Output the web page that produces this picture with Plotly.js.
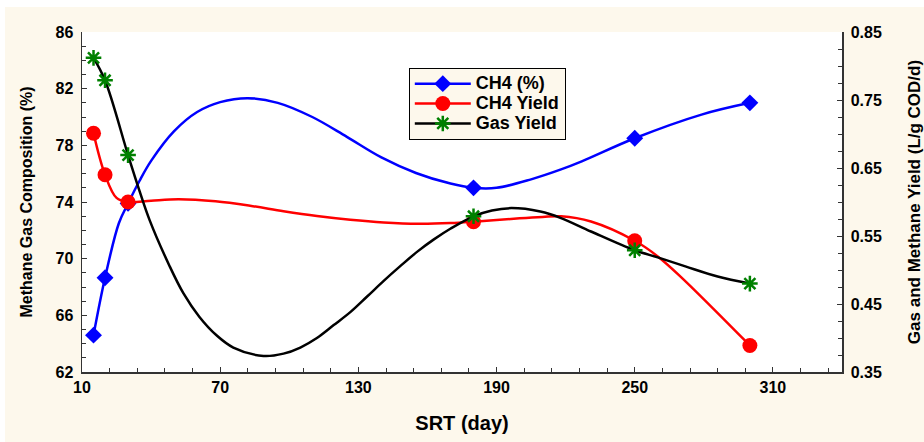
<!DOCTYPE html>
<html><head><meta charset="utf-8">
<script src="https://cdn.plot.ly/plotly-3.0.1.min.js"></script>
<style>html,body{margin:0;padding:0;background:#ffffff;} #chart{position:absolute;left:5px;top:7px;width:919px;height:435px;}</style>
</head><body><div id="chart"></div>
<script>
// ---- measured data points (markers) ----
const srtDays    = [15, 20, 30, 180, 250, 300];
const ch4Percent = [64.6, 68.65, 73.9, 75.0, 78.5, 81.0];
const ch4Yield   = [0.701, 0.640, 0.600, 0.571, 0.543, 0.389];
const gasYield   = [0.812, 0.779, 0.669, 0.579, 0.529, 0.480];

// ---- fitted spline curves ----
const ch4PercentFitX = [26, 35, 40, 50, 60, 70, 82, 95, 110, 125, 140, 155, 170, 190, 205, 218, 227, 279];
const ch4PercentFitY = [72.5, 75.5, 76.9, 79.0, 80.35, 81.05, 81.33, 81.0, 80.0, 78.6, 77.15, 76.05, 75.3, 75.0, 75.6, 76.3, 76.87, 80.17];
const ch4YieldFitX   = [25, 40, 52, 68, 83, 97.5, 112, 126.5, 141, 156, 170, 200, 210, 218, 231, 260, 270];
const ch4YieldFitY   = [0.606, 0.602, 0.604, 0.601, 0.5945, 0.5865, 0.5795, 0.574, 0.570, 0.568, 0.569, 0.576, 0.578, 0.579, 0.5713, 0.520, 0.490];
const gasYieldFitX   = [35, 39.4, 48, 54, 61, 68.4, 75.7, 88.8, 97.5, 104.8, 112, 119.3, 126.5, 133.8, 141, 148.3, 155.6, 162.8, 170.1, 188, 196.5, 209, 218, 231, 260, 272, 286];
const gasYieldFitY   = [0.616, 0.573, 0.506, 0.466, 0.431, 0.404, 0.386, 0.3735, 0.377, 0.386, 0.400, 0.419, 0.438, 0.461, 0.484, 0.506, 0.527, 0.545, 0.561, 0.5876, 0.591, 0.586, 0.5764, 0.5566, 0.5185, 0.5053, 0.4905];

// ---- ticks and labels ----
const xTickVals  = [10, 70, 130, 190, 250, 310];
const yTickVals  = [62, 66, 70, 74, 78, 82, 86];
const y2TickVals = [0.35, 0.45, 0.55, 0.65, 0.75, 0.85];
const seriesNames = ['CH4 (%)', 'CH4 Yield', 'Gas Yield'];

// merge markers and curve samples into one trace; markers only shown at measured points
function buildSeries(nx, ny, fx, fy) {
  const pts = nx.map((x, i) => ({x: x, y: ny[i], node: true}))
    .concat(fx.map((x, i) => ({x: x, y: fy[i], node: false})));
  pts.sort((a, b) => a.x - b.x);
  return {
    x: pts.map(p => p.x), y: pts.map(p => p.y),
    nodes: pts.map((p, i) => p.node ? i : -1).filter(i => i >= 0)
  };
}

const FONT = 'Liberation Sans, Arial, sans-serif';
const BG = '#fdf8ec';

function makeTrace(ny, fx, fy, name, yaxis, lineColor, marker) {
  const s = buildSeries(srtDays, ny, fx, fy);
  return {
    type: 'scatter', mode: 'lines+markers',
    name: '<span style="font-size:18px">' + name + '</span>', yaxis: yaxis,
    x: s.x, y: s.y,
    line: {color: lineColor, width: 2.5, shape: 'spline', smoothing: 1},
    marker: marker,
    selectedpoints: s.nodes,
    selected: {marker: {opacity: 1}},
    unselected: {marker: {opacity: 0}},
    hoverinfo: 'skip'
  };
}

const traces = [
  makeTrace(ch4Percent, ch4PercentFitX, ch4PercentFitY, seriesNames[0], 'y', '#0000ff', {symbol: 'diamond', size: 13, color: '#0000ff'}),
  makeTrace(ch4Yield, ch4YieldFitX, ch4YieldFitY, seriesNames[1], 'y2', '#ff0000', {symbol: 'circle', size: 15, color: '#ff0000'}),
  makeTrace(gasYield, gasYieldFitX, gasYieldFitY, seriesNames[2], 'y2', '#000000', {symbol: 'asterisk-open', size: 13, color: '#008000', line: {color: '#008000', width: 2.5}})
];

const axisCommon = {
  showline: true, linecolor: '#333333', linewidth: 1.5,
  ticks: 'inside', ticklen: 5, tickwidth: 1, tickcolor: '#333333',
  showgrid: false, zeroline: false,
  tickfont: {family: FONT, size: 16, color: '#000000', weight: 'bold'}
};

const layout = {
  width: 919, height: 435,
  paper_bgcolor: BG, plot_bgcolor: '#ffffff',
  margin: {l: 77, r: 82, t: 25, b: 70},
  showlegend: true,
  legend: {
    x: 0.43, y: 0.895, xanchor: 'left', yanchor: 'top',
    bgcolor: BG, bordercolor: '#000000', borderwidth: 1,
    font: {family: FONT, size: 13, color: '#000000', weight: 'bold'},
    itemwidth: 56, tracegroupgap: 0
  },
  xaxis: Object.assign({}, axisCommon, {
    range: [10, 340], tickvals: xTickVals, ticktext: xTickVals.map(String),
    minor: {dtick: 12, tick0: 10, ticks: 'inside', ticklen: 4, tickcolor: '#333333'},
    title: {text: 'SRT (day)', standoff: 21, font: {family: FONT, size: 20, color: '#000000', weight: 'bold'}}
  }),
  xaxis2: Object.assign({}, axisCommon, {
    overlaying: 'x', side: 'top', anchor: 'y', range: [10, 340],
    tick0: 10, dtick: 55, showticklabels: false,
    minor: {dtick: 11, tick0: 10, ticks: 'inside', ticklen: 4, tickcolor: '#333333'}
  }),
  yaxis: Object.assign({}, axisCommon, {
    range: [62, 86], tickvals: yTickVals, ticktext: yTickVals.map(String),
    minor: {dtick: 1, tick0: 62, ticks: 'inside', ticklen: 4, tickcolor: '#333333'},
    ticklabelstandoff: 4,
    title: {text: 'Methane Gas Composition (%)', standoff: 19, font: {family: FONT, size: 16, color: '#000000', weight: 'bold'}}
  }),
  yaxis2: Object.assign({}, axisCommon, {
    overlaying: 'y', side: 'right', anchor: 'x',
    range: [0.35, 0.85], tickvals: y2TickVals, ticktext: y2TickVals.map(v => v.toFixed(2)),
    minor: {dtick: 0.025, tick0: 0.35, ticks: 'inside', ticklen: 4, tickcolor: '#333333'},
    ticklabelstandoff: 4,
    title: {text: 'Gas and Methane Yield (L/g COD/d)', standoff: 28, font: {family: FONT, size: 17, color: '#000000', weight: 'bold'}}
  })
};

Plotly.newPlot('chart', traces, layout, {displayModeBar: false, staticPlot: true});
</script>
</body></html>
